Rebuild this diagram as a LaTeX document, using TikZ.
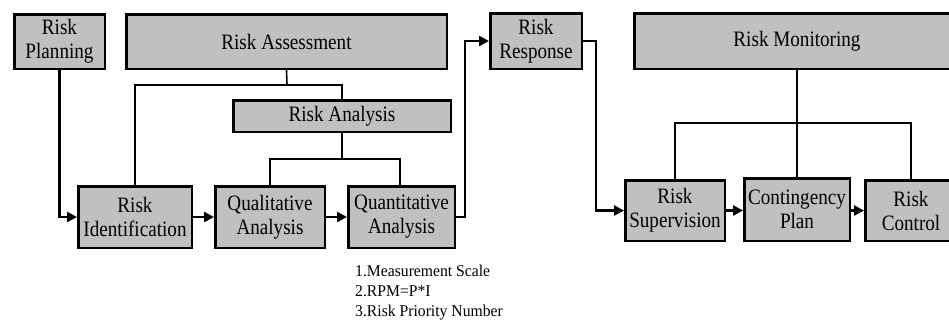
\documentclass[tikz,border=0pt]{standalone}
\usepackage{fontspec}
\setmainfont{Liberation Serif}
\newfontfamily\boxfont[FakeStretch=0.87]{Liberation Serif}
\newfontfamily\notefont[FakeStretch=0.95]{Liberation Serif}
\usetikzlibrary{arrows.meta}
\definecolor{boxgray}{HTML}{C0C0C0}
\tikzset{
  box/.style={draw=black, fill=boxgray, line width=2.5pt, inner sep=0pt, align=center,
    font=\boxfont\fontsize{22}{24}\selectfont},
  arr/.style={line width=2.5pt, -{Triangle[length=10pt,width=10pt]}},
  tree/.style={line width=1.6pt},
}
\begin{document}
\begin{tikzpicture}[x=1pt,y=-1pt]
\useasboundingbox (0,0) rectangle (949,325);
% boxes
\node[box, minimum width=90.5pt, minimum height=54.5pt] (rp) at (59.5,41.5) {Risk\\Planning};
\node[box, minimum width=320.5pt, minimum height=54.5pt] (ra) at (286.5,41.5) {Risk Assessment};
\node[box, minimum width=217.5pt, minimum height=31.5pt] (ran) at (342,116) {Risk Analysis};
\node[box, minimum width=113.5pt, minimum height=61.5pt] (ri) at (135,217) {Risk\\Identification};
\node[box, minimum width=109.5pt, minimum height=61.5pt] (ql) at (270,217) {Qualitative\\Analysis};
\node[box, minimum width=106.5pt, minimum height=61.5pt] (qn) at (401.5,217) {Quantitative\\Analysis};
\node[box, minimum width=91.5pt, minimum height=55.5pt] (rr) at (536,41) {Risk\\Response};
\node[box, minimum width=325.5pt, minimum height=55.5pt] (rm) at (797,41) {Risk Monitoring};
\node[box, minimum width=99.5pt, minimum height=60.5pt] (rs) at (675,210.5) {Risk\\Supervision};
\node[box, minimum width=105.5pt, minimum height=62.5pt] (cp) at (797,209.5) {Contingency\\Plan};
\node[box, minimum width=91.5pt, minimum height=60.5pt] (rc) at (911,210.5) {Risk\\Control};
% note
\node[anchor=north west, align=left, inner sep=0pt, font=\notefont\fontsize{16.5}{20}\selectfont] (note) at (355,265)
  {1.Measurement Scale\\2.RPM=P*I\\3.Risk Priority Number};
% coordinates
\coordinate (j1) at (287,85);
\coordinate (j2) at (342,159);
\coordinate (j3) at (797,123);
\coordinate (b1) at (465,217);
\coordinate (b2) at (596,41);
% tree connectors
\draw[tree] (ra.south) -- (j1);
\draw[tree] (ri.north) |- (j1) -| (ran.north);
\draw[tree] (ran.south) -- (j2);
\draw[tree] (ql.north) |- (j2) -| (qn.north -| 400,0);
\draw[tree] (rm.south) -- (j3);
\draw[tree] (rs.north) |- (j3) -| (rc.north);
\draw[tree] (cp.north) -- (j3);
% flow arrows
\draw[arr] (rp.south) |- (ri.west);
\draw[arr] (ri.east) -- (ql.west);
\draw[arr] (ql.east) -- (qn.west);
\draw[arr] (qn.east) -- (b1) |- (rr.west);
\draw[arr] (rr.east) -- (b2) |- (rs.west);
\draw[arr] (rs.east) -- (cp.west |- rs.east);
\draw[arr] (cp.east |- rc.west) -- (rc.west);
\end{tikzpicture}
\end{document}
